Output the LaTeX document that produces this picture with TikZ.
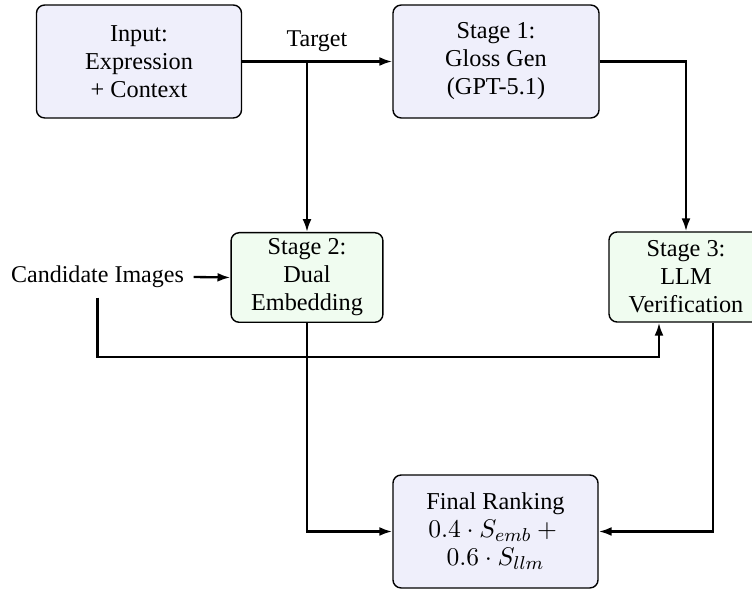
\documentclass[tikz,border=0pt]{standalone}
\usepackage{fontspec}
\setmainfont{Liberation Serif}
\usetikzlibrary{arrows.meta,calc}
\definecolor{boxblue}{RGB}{239,239,251}
\definecolor{boxgreen}{RGB}{240,252,240}
\newcommand{\bigmath}[1]{{\fontsize{11.4pt}{12pt}\selectfont $#1$}}
\tikzset{
  basebox/.style={draw=black, line width=0.6pt, rounded corners=3.5pt, align=center, inner sep=0pt,
    font=\fontsize{10.4pt}{12pt}\selectfont},
  bluebox/.style={basebox, fill=boxblue},
  greenbox/.style={basebox, fill=boxgreen},
  lbl/.style={font=\fontsize{10.3pt}{12pt}\selectfont},
  arr/.style={-{Latex[length=5.5pt,width=3.8pt]}, line width=1pt},
}
\begin{document}
\begin{tikzpicture}[x=0.4286pt, y=-0.4286pt]
\useasboundingbox (0,0) rectangle (752,590);
\node[bluebox, minimum width=87.9pt, minimum height=48.4pt] (in) at (139,61.5) {Input:\\Expression\\+ Context};
\node[bluebox, minimum width=88.3pt, minimum height=48.4pt] (s1) at (496,61.5) {Stage 1:\\Gloss Gen\\(GPT-5.1)};
\node[greenbox, minimum width=65.1pt, minimum height=38.4pt] (s2) at (307,277.5) {Stage 2:\\Dual\\Embedding};
\node[greenbox, minimum width=66pt, minimum height=38.6pt] (s3) at (686,277) {Stage 3:\\LLM\\Verification};
\node[bluebox, minimum width=87.9pt, minimum height=48.4pt] (fin) at (495.5,531.5) {Final Ranking\\\bigmath{0.4 \cdot S_{emb} +{}}\\\bigmath{0.6 \cdot S_{llm}}};
\node[lbl, inner sep=4pt] (cand) at (97.5,277) {Candidate Images};
\node[lbl, inner sep=0pt] (tgt) at (317,41) {Target};
\coordinate (br) at (307,61.5);
\coordinate (low) at (0,357);

\draw[arr] (in.east) -- (s1.west);
\draw[arr] (br) -- (s2.north);
\draw[arr] (s1.east) -| (s3.north);
\draw[arr] (cand.east) -- (s2.west);
\draw[arr] (cand.south) -- (cand.south |- low) -| ($(s3.south)+(-27,0)$);
\draw[arr] (s2.south) |- (fin.west);
\draw[arr] ($(s3.south)+(27,0)$) |- (fin.east);
\end{tikzpicture}
\end{document}
